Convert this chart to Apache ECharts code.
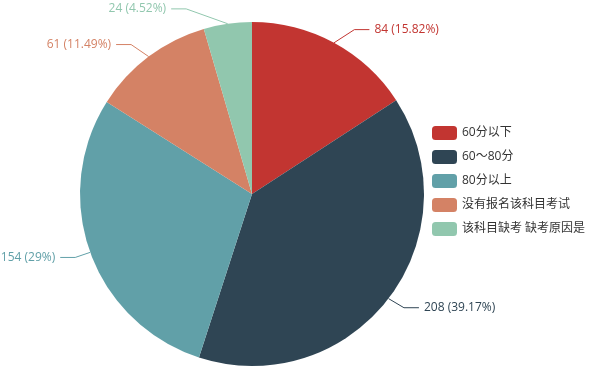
<!DOCTYPE html>
<html><head><meta charset="utf-8">
<script src="https://cdn.jsdelivr.net/npm/echarts@6/dist/echarts.min.js"></script>
<style>html,body{margin:0;padding:0;background:#fff}#c{width:591px;height:371px}</style>
</head><body><div id="c"></div>
<script>
var categories = ['60分以下', '60～80分', '80分以上', '没有报名该科目考试', '该科目缺考 缺考原因是'];
var values = [84, 208, 154, 61, 24];
var colors = ['#c23531', '#2f4554', '#61a0a8', '#d48265', '#91c7ae'];
var FONT = '"Open Sans", "Noto Sans CJK SC", sans-serif';
var CX = 252, CY = 194, R = 172, LEN = 15, LEN2 = 15;
var chart = echarts.init(document.getElementById('c'));
chart.setOption({
  color: colors,
  textStyle: {fontFamily: FONT},
  legend: {
    orient: 'vertical', left: 427, top: 121,
    itemWidth: 25, itemHeight: 14, itemGap: 10,
    data: categories,
    textStyle: {fontSize: 12, color: '#333', fontFamily: FONT}
  },
  series: [{
    type: 'pie',
    center: [CX, CY],
    radius: R,
    startAngle: 90,
    data: categories.map(function (n, i) { return {name: n, value: values[i]}; }),
    label: {formatter: '{c} ({d}%)', fontSize: 12, color: 'inherit', overflow: 'none', fontFamily: FONT},
    labelLine: {length: LEN, length2: LEN2, smooth: false},
    labelLayout: function (p) {
      var pts = p.labelLinePoints;
      if (!pts) return {};
      var y = pts[2][1];
      var dir = pts[2][0] < CX ? -1 : 1;
      var RR = R + LEN + LEN2;
      var dy = Math.abs(y - CY);
      var endX = CX + dir * Math.sqrt(Math.max(RR * RR - dy * dy, 0));
      var bend = [endX - dir * LEN2, y];
      return {dx: endX - pts[2][0], labelLinePoints: [pts[0], bend, [endX, y]]};
    },
    itemStyle: {borderWidth: 0}
  }]
});
</script></body></html>
